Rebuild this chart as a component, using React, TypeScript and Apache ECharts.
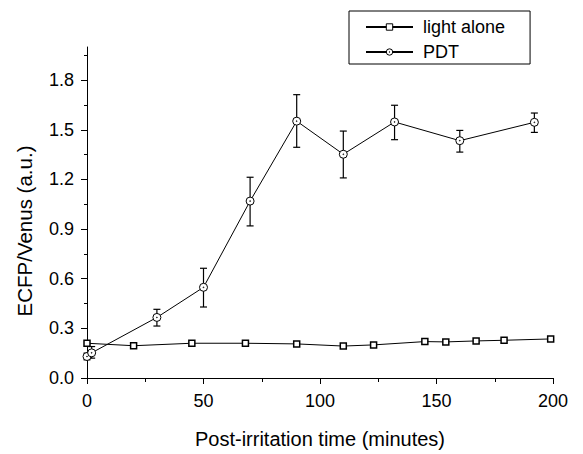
import React, { useEffect, useRef } from "react";
import * as echarts from "echarts";

const lightT = [0, 20, 45, 68, 90, 110, 123, 145, 154, 167, 179, 199];
const lightV = [0.21, 0.195, 0.21, 0.21, 0.206, 0.193, 0.2, 0.22, 0.218, 0.224, 0.228, 0.236];

const pdtT = [0, 2, 30, 50, 70, 90, 110, 132, 160, 192];
const pdtV = [0.13, 0.152, 0.366, 0.548, 1.069, 1.552, 1.352, 1.547, 1.434, 1.545];
const pdtLow = [0.11, 0.12, 0.314, 0.429, 0.919, 1.394, 1.209, 1.44, 1.365, 1.484];
const pdtHigh = [0.15, 0.19, 0.415, 0.663, 1.213, 1.712, 1.492, 1.648, 1.496, 1.601];

const yMajor = [0, 0.3, 0.6, 0.9, 1.2, 1.5, 1.8];
const yMinor = [0.15, 0.45, 0.75, 1.05, 1.35, 1.65, 1.95];

const FONT = "'Liberation Sans', Arial, sans-serif";
const DOT_CIRCLE =
  "path://M0,-5A5,5 0 1,1 0,5A5,5 0 1,1 0,-5Z M0,-0.5A0.5,0.5 0 1,1 0,0.5A0.5,0.5 0 1,1 0,-0.5Z";

export default function App() {
  const ref = useRef<HTMLDivElement>(null);
  useEffect(() => {
    if (!ref.current) return;
    const chart = echarts.init(ref.current, undefined, { renderer: "svg" });
    const errData = pdtT.map((t, i) => [t, pdtLow[i], pdtHigh[i]]);
    chart.setOption({
      animation: false,
      backgroundColor: "#fff",
      textStyle: { fontFamily: FONT },
      grid: { left: 87, right: 30, top: 47, bottom: 65, containLabel: false },
      legend: {
        orient: "vertical",
        left: 349,
        top: 11,
        padding: [7, 25, 3, 16],
        itemWidth: 47,
        itemHeight: 8,
        itemGap: 7,
        borderColor: "#000",
        borderWidth: 1,
        borderRadius: 0,
        textStyle: { fontSize: 18, color: "#000", fontFamily: FONT, padding: [0, 0, 0, 5] },
        data: [
          { name: "light alone", itemStyle: { color: "#fff", borderColor: "#000", borderWidth: 1 } },
          { name: "PDT", itemStyle: { color: "#fff", borderColor: "#000", borderWidth: 1 } },
        ],
      },
      xAxis: {
        type: "value",
        min: 0,
        max: 200,
        interval: 50,
        name: "Post-irritation time (minutes)",
        nameLocation: "middle",
        nameGap: 51,
        nameTextStyle: { fontSize: 20, color: "#000", fontFamily: FONT },
        axisLine: { show: true, onZero: false, lineStyle: { color: "#000", width: 1 } },
        axisTick: { show: true, inside: false, length: 6, lineStyle: { color: "#000" } },
        minorTick: { show: true, splitNumber: 2, length: 4, lineStyle: { color: "#000" } },
        axisLabel: { fontSize: 18, color: "#000", margin: 14, fontFamily: FONT },
        splitLine: { show: false },
        minorSplitLine: { show: false },
      },
      yAxis: [
        {
          type: "value",
          min: 0,
          max: 2.0,
          interval: 0.3,
          axisLine: { show: true, onZero: false, lineStyle: { color: "#000", width: 1 } },
          axisTick: { show: true, inside: false, length: 6, customValues: yMajor, lineStyle: { color: "#000" } },
          axisLabel: {
            fontSize: 18,
            color: "#000",
            margin: 13,
            fontFamily: FONT,
            customValues: yMajor,
            formatter: (v: number) => v.toFixed(1),
          },
          splitLine: { show: false },
        },
        {
          type: "value",
          min: 0,
          max: 2.0,
          position: "left",
          axisLine: { show: false },
          axisTick: { show: true, inside: false, length: 3, customValues: yMinor, lineStyle: { color: "#000" } },
          axisLabel: { show: false },
          splitLine: { show: false },
        },
      ],
      graphic: [
        {
          type: "text",
          x: 24,
          y: 231,
          rotation: Math.PI / 2,
          style: {
            text: "ECFP/Venus (a.u.)",
            fontSize: 20.5,
            fontFamily: FONT,
            fill: "#000",
            align: "center",
            verticalAlign: "middle",
          },
        },
      ],
      series: [
        {
          name: "light alone",
          type: "line",
          yAxisIndex: 0,
          data: lightT.map((t, i) => [t, lightV[i]]),
          symbol: "rect",
          symbolSize: 6,
          lineStyle: { color: "#000", width: 1 },
          itemStyle: { color: "#fff", borderColor: "#000", borderWidth: 1.5 },
          z: 3,
        },
        {
          name: "errbars",
          type: "custom",
          yAxisIndex: 0,
          data: errData,
          z: 2,
          renderItem: (params: any, api: any) => {
            const x = api.value(0);
            const lo = api.coord([x, api.value(1)]);
            const hi = api.coord([x, api.value(2)]);
            const w = 3.5;
            const st = { stroke: "#000", lineWidth: 1.2 };
            return {
              type: "group",
              children: [
                { type: "line", shape: { x1: lo[0], y1: lo[1], x2: hi[0], y2: hi[1] }, style: st },
                { type: "line", shape: { x1: lo[0] - w, y1: lo[1], x2: lo[0] + w, y2: lo[1] }, style: st },
                { type: "line", shape: { x1: hi[0] - w, y1: hi[1], x2: hi[0] + w, y2: hi[1] }, style: st },
              ],
            };
          },
        },
        {
          name: "PDT",
          type: "line",
          yAxisIndex: 0,
          data: pdtT.map((t, i) => [t, pdtV[i]]),
          symbol: DOT_CIRCLE,
          symbolSize: 8,
          lineStyle: { color: "#000", width: 1 },
          itemStyle: { color: "#fff", borderColor: "#000", borderWidth: 1 },
          z: 4,
        },
      ],
    });
    return () => chart.dispose();
  }, []);
  return (
    <div
      ref={ref}
      style={{ position: "fixed", left: 0, top: 0, width: 583, height: 454 }}
    />
  );
}
